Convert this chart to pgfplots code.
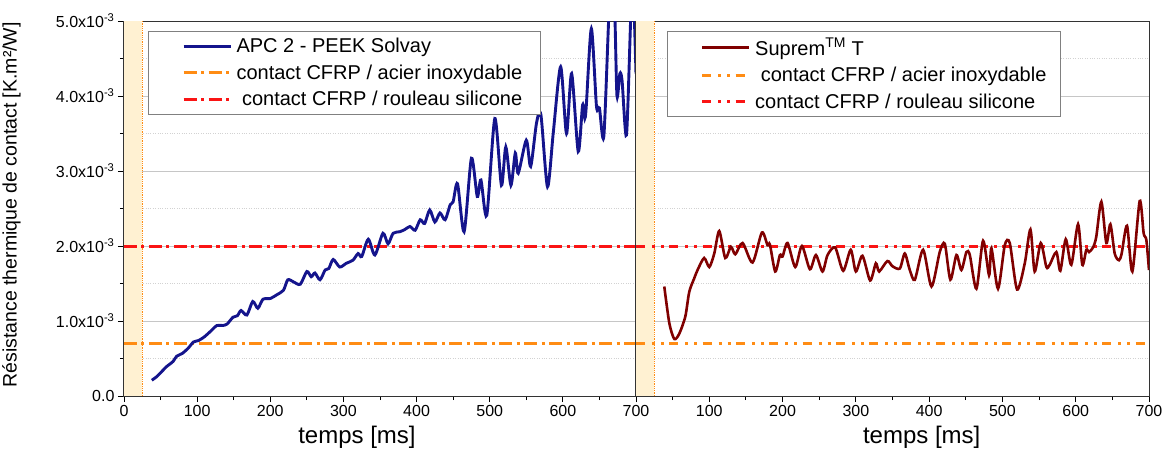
\documentclass[border=0pt]{standalone}
\usepackage{fontspec}
\setmainfont{Liberation Sans}
\usepackage{pgfplots}
\pgfplotsset{compat=1.18}
\definecolor{navyc}{RGB}{20,20,140}
\definecolor{darkredc}{RGB}{128,0,0}
\definecolor{orangec}{RGB}{255,140,20}
\definecolor{redc}{RGB}{250,20,20}
\definecolor{bandc}{RGB}{255,241,210}
\pgfplotsset{
  panel/.style={
    scale only axis, height=375pt, ymin=0, ymax=5, xmin=0, xmax=700,
    tick align=outside, tick pos=left,
    ytick={0,1,2,3,4,5}, minor ytick={0.5,1.5,2.5,3.5,4.5},
    ymajorgrids, yminorgrids,
    major grid style={draw=gray!45, line width=0.9pt},
    minor grid style={draw=gray!35, dotted, line width=0.8pt},
    xtick={0,100,...,700}, minor xtick={50,150,...,650},
    major tick length=6pt, minor tick length=4pt,
    every tick/.style={black, line width=0.9pt},
    ticklabel style={font=\fontsize{16}{19}\selectfont},
    /pgf/number format/assume math mode=true,
    axis line style={black!80, line width=1pt},
    xlabel={temps [ms]},
    xlabel style={font=\fontsize{24}{28}\selectfont, anchor=north},
    legend cell align=left,
    legend style={anchor=north west, draw=gray, line width=0.9pt,
      font=\fontsize{20}{24}\selectfont, row sep=6.5pt,
      inner xsep=0pt, inner ysep=5pt},
    legend image code/.code={\path[draw=none,fill=none] (-35pt,0pt) -- (51pt,0pt);
      \draw[##1] (0pt,0pt) -- (47pt,0pt);},
  }
}
\begin{document}
\begin{tikzpicture}
\begin{axis}[panel, name=L, width=512pt,
  yticklabels={0.0,{1.0x10\textsuperscript{-3}},{2.0x10\textsuperscript{-3}},{3.0x10\textsuperscript{-3}},{4.0x10\textsuperscript{-3}},{5.0x10\textsuperscript{-3}}},
  xlabel style={at={(axis description cs:0.455,0)}, yshift=-27pt},
  ylabel={Résistance thermique de contact [K.m²/W]},
  ylabel style={font=\fontsize{19.5}{22}\selectfont, at={(axis description cs:-0.195,0.51)}, anchor=south, rotate=0},
  legend style={at={(0.047,0.974)}},
]
\addplot[fill=bandc, draw=none, forget plot] coordinates {(0,5) (25,5)} \closedcycle;
\addplot[orangec, densely dotted, line width=0.8pt, forget plot] coordinates {(25,0) (25,5)};
\addlegendimage{navyc, line width=3pt}
\addlegendentry{\makebox[302pt][l]{APC 2 - PEEK Solvay}}
\addplot[orangec, line width=3pt, dash pattern=on 13pt off 4.5pt on 3pt off 4.5pt] coordinates {(0,0.7) (700,0.7)};
\addlegendentry{contact CFRP / acier inoxydable}
\addplot[redc, line width=3pt, dash pattern=on 13pt off 4.5pt on 3pt off 4.5pt] coordinates {(0,2.0) (700,2.0)};
\addlegendentry{\ contact CFRP / rouleau silicone}
\addplot[navyc, line width=2.9pt, smooth, tension=0.45, forget plot] coordinates {
(38,0.21) (45,0.26) (52,0.33) (58,0.39) (67,0.46) (72,0.53) (80,0.57) (88,0.64)
(95,0.72) (102,0.74) (110,0.79) (118,0.86) (127,0.94) (135,0.94) (141,0.96)
(149,1.05) (155,1.07) (160,1.14) (168,1.08) (176,1.26) (183,1.17) (190,1.29)
(200,1.30) (209,1.35) (218,1.41) (224,1.55) (232,1.52) (241,1.49) (250,1.66)
(256,1.59) (261,1.64) (268,1.55) (275,1.68) (280,1.70) (286,1.82) (295,1.72)
(304,1.77) (313,1.81) (320,1.90) (325,1.86) (334,2.09) (343,1.88) (354,2.17)
(361,2.03) (368,2.17) (377,2.19) (384,2.22) (391,2.26) (398,2.21) (405,2.35)
(411,2.30) (418,2.48) (425,2.32) (432,2.44) (439,2.35) (446,2.55) (450,2.59)
(456,2.83) (465,2.19) (475,3.17) (483,2.66) (488,2.88) (496,2.41) (507,3.70)
(516,2.81) (522,3.32) (529,2.81) (535,3.24) (539,2.97) (550,3.41) (556,3.06)
(564,3.64) (570,3.75) (579,2.79) (587,3.52) (597,4.39) (605,3.50) (612,4.30)
(621,3.26) (627,3.88) (630,3.70) (632,3.86) (639,4.90) (646,3.86) (650,3.84)
(656,3.46) (663,5.10) (667,5.60) (671,5.10) (674,4.00) (678,4.30) (681,4.20)
(687,3.48) (693,5.10) (696,5.50) (700,4.30)
};
\end{axis}
\begin{axis}[panel, width=513pt, at={(L.south east)}, anchor=south west,
  xticklabels={,100,200,300,400,500,600,700},
  yticklabels={}, ytick style={draw=none},
  xlabel style={at={(axis description cs:0.557,0)}, yshift=-27pt},
  legend style={at={(0.060,0.974)}},
]
\addplot[fill=bandc, draw=none, forget plot] coordinates {(0,5) (25,5)} \closedcycle;
\addplot[orangec, densely dotted, line width=0.8pt, forget plot] coordinates {(25,0) (25,5)};
\addlegendimage{darkredc, line width=2.6pt}
\addlegendentry{\makebox[303pt][l]{Suprem\textsuperscript{TM} T}}
\addplot[orangec, line width=3pt, dash pattern=on 9pt off 7pt on 3pt off 6pt on 3pt off 5.3pt] coordinates {(0,0.7) (700,0.7)};
\addlegendentry{\ contact CFRP / acier inoxydable}
\addplot[redc, line width=3pt, dash pattern=on 9pt off 7pt on 3pt off 6pt on 3pt off 5.3pt] coordinates {(0,2.0) (700,2.0)};
\addlegendentry{contact CFRP / rouleau silicone}
\addplot[darkredc, line width=2.6pt, smooth, tension=0.45, forget plot] coordinates {
(38.6,1.46) (45.5,0.97) (52.3,0.76) (59,0.83) (67.3,1.06) (72.7,1.39) (79.5,1.57)
(84,1.68) (93,1.84) (100,1.72) (106.8,1.90) (113.6,2.20) (121.8,1.84) (129.5,1.99)
(135.5,1.89) (145.5,2.04) (159,1.78) (171.8,2.18) (179.5,2.01) (182.7,2.02)
(190,1.66) (196.4,1.88) (200,1.86) (206.8,2.04) (217.3,1.72) (226.4,2.00)
(237.3,1.69) (245.5,1.88) (254.5,1.66) (261.4,1.88) (271.8,1.98) (282.7,1.67)
(293,1.95) (300,1.66) (309,1.87) (319.5,1.54) (327.3,1.77) (331.8,1.66) (343,1.80)
(350,1.73) (360,1.70) (366.8,1.90) (373.6,1.68) (380.5,1.55) (391.8,1.95)
(403.2,1.46) (414.5,1.92) (421.4,2.03) (429,1.55) (437.3,1.88) (444,1.68)
(450.9,1.92) (455.5,1.88) (464.5,1.43) (473.6,2.07) (481.8,1.61) (485,1.97)
(494,1.43) (503.2,2.01) (510,2.04) (520,1.42) (530.5,1.77) (538.2,2.22) (544,1.66)
(552.3,2.04) (560,1.72) (564.5,1.75) (573.6,1.92) (579,1.67) (586.4,2.09)
(594,1.75) (603.2,2.29) (609,1.75) (614.5,1.95) (618.2,1.92) (623.6,1.98)
(628,2.12) (635,2.59) (641.8,2.04) (647.3,2.29) (653.2,1.90) (659,1.81)
(662.7,1.90) (670,2.27) (677.3,1.66) (687.3,2.60) (692.7,2.17) (696.4,2.08)
(700,1.68)
};
\end{axis}
\pgfresetboundingbox
\path (L.south west) ++(-124pt,-63pt) rectangle ++(1169pt,459pt);
\end{tikzpicture}
\end{document}
